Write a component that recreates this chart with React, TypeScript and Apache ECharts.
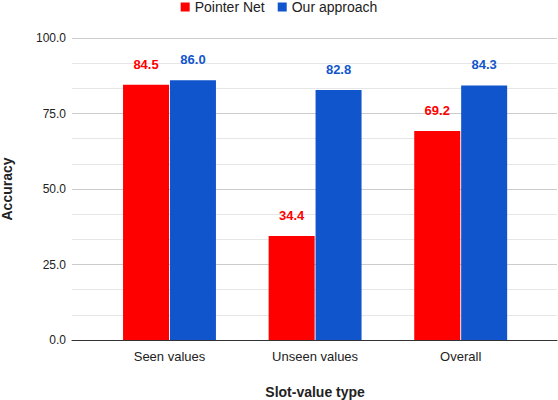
import React, { useEffect, useRef } from "react";
import * as echarts from "echarts";

const categories = ["Seen values", "Unseen values", "Overall"];
const pointerNet = [84.5, 34.4, 69.2];
const ourApproach = [86.0, 82.8, 84.3];
const seriesNames = ["Pointer Net", "Our approach"];
const yTicks = { min: 0, max: 100, interval: 25 };

const FONT = "Arial, 'Liberation Sans', sans-serif";
const RED = "#ff0000";
const BLUE = "#1155cc";

export default function App() {
  const ref = useRef<HTMLDivElement>(null);
  useEffect(() => {
    if (!ref.current) return;
    const chart = echarts.init(ref.current, undefined, { renderer: "svg" });
    chart.setOption({
      animation: false,
      textStyle: { fontFamily: FONT },
      legend: {
        top: 0,
        left: "center",
        padding: 0,
        icon: "rect",
        itemWidth: 9,
        itemHeight: 9,
        itemGap: 13,
        textStyle: { fontSize: 14, color: "#222", fontFamily: FONT },
        data: seriesNames,
      },
      grid: [
        { left: 72, right: 1, top: 38, bottom: 60, containLabel: false, outerBoundsMode: "none" },
        { left: 96.7, right: 24.5, top: 38, bottom: 60, containLabel: false, outerBoundsMode: "none" },
      ],
      xAxis: [
        {
          gridIndex: 0,
          type: "category",
          data: [""],
          axisTick: { show: false },
          axisLabel: { show: false },
          axisLine: { lineStyle: { color: "#333", width: 1 } },
        },
        {
          gridIndex: 1,
          type: "category",
          data: categories,
          axisTick: { show: false },
          axisLine: { show: false },
          axisLabel: { fontSize: 13, color: "#222", margin: 10, fontFamily: FONT },
          name: "Slot-value type",
          nameLocation: "middle",
          nameGap: 45,
          nameTextStyle: { fontSize: 14, fontWeight: "bold", color: "#222", fontFamily: FONT },
        },
      ],
      yAxis: [
        {
          gridIndex: 0,
          type: "value",
          min: yTicks.min,
          max: yTicks.max,
          interval: yTicks.interval,
          axisLine: { show: false },
          axisTick: { show: false },
          axisLabel: {
            fontSize: 12,
            color: "#222",
            margin: 6,
            fontFamily: FONT,
            formatter: (v: number) => v.toFixed(1),
          },
          splitLine: { lineStyle: { color: "#cccccc", width: 1 } },
          minorTick: { show: false, splitNumber: 3 },
          minorSplitLine: { show: true, lineStyle: { color: "#e6e6e6", width: 1 } },
          name: "Accuracy",
          nameLocation: "middle",
          nameGap: 58,
          nameRotate: 90,
          nameTextStyle: { fontSize: 14, fontWeight: "bold", color: "#222", fontFamily: FONT },
        },
        {
          gridIndex: 1,
          type: "value",
          min: yTicks.min,
          max: yTicks.max,
          interval: yTicks.interval,
          show: false,
          splitLine: { show: false },
        },
      ],
      series: [
        {
          name: seriesNames[0],
          type: "bar",
          xAxisIndex: 1,
          yAxisIndex: 1,
          data: pointerNet,
          barWidth: 46,
          barGap: "2%",
          itemStyle: { color: RED },
          label: {
            show: true,
            position: "top",
            distance: 14,
            fontSize: 13,
            fontWeight: "bold",
            color: RED,
            fontFamily: FONT,
            formatter: (p: any) => Number(p.value).toFixed(1),
          },
        },
        {
          name: seriesNames[1],
          type: "bar",
          xAxisIndex: 1,
          yAxisIndex: 1,
          data: ourApproach,
          barWidth: 46,
          barGap: "2%",
          itemStyle: { color: BLUE },
          label: {
            show: true,
            position: "top",
            distance: 14,
            fontSize: 13,
            fontWeight: "bold",
            color: BLUE,
            fontFamily: FONT,
            formatter: (p: any) => Number(p.value).toFixed(1),
          },
        },
      ],
    });
    return () => chart.dispose();
  }, []);
  return (
    <div
      ref={ref}
      style={{ position: "fixed", left: 0, top: 0, width: 558, height: 400, background: "#fff" }}
    />
  );
}
